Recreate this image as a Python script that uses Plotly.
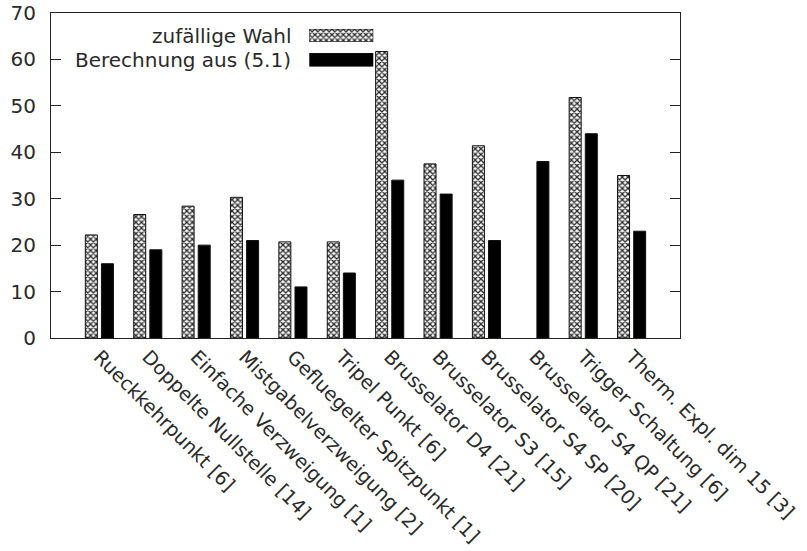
import plotly.graph_objects as go

# Test problems (label with number of runs in brackets)
categories = [
    "Rueckkehrpunkt [6]",
    "Doppelte Nullstelle [14]",
    "Einfache Verzweigung [1]",
    "Mistgabelverzweigung [2]",
    "Gefluegelter Spitzpunkt [1]",
    "Tripel Punkt [6]",
    "Brusselator D4 [21]",
    "Brusselator S3 [15]",
    "Brusselator S4 SP [20]",
    "Brusselator S4 QP [21]",
    "Trigger Schaltung [6]",
    "Therm. Expl. dim 15 [3]",
]
zufaellig = [22.2, 26.6, 28.4, 30.3, 20.7, 20.7, 61.7, 37.5, 41.4, None, 51.8, 35.0]
berechnung = [16, 19, 20, 21, 11, 14, 34, 31, 21, 38, 44, 23]

series_names = ["zufällige Wahl", "Berechnung aus (5.1)"]
y_ticks = [0, 10, 20, 30, 40, 50, 60, 70]

FONT = "DejaVu Sans"
FS = 20
TXT = "#2a2a2a"
LINE = "#222222"


def hatch():
    return dict(shape="x", size=4, solidity=0.55, fgcolor="#2a2a2a",
                bgcolor="#ffffff", fillmode="replace")


styles = [
    dict(color="white", pattern=hatch(), line=dict(color="#111111", width=1)),
    dict(color="black", line=dict(color="#111111", width=1)),
]

fig = go.Figure()
for name, vals, st in zip(series_names, [zufaellig, berechnung], styles):
    fig.add_trace(go.Bar(x=categories, y=vals, name=name, marker=st, showlegend=False))

# key samples: one short horizontal bar per series on its own hidden axes
key_rows = [(0.9106, 0.9507, "x2", "y2"), (0.8354, 0.8767, "x3", "y3")]
for (y0, y1, xa, ya), st in zip(key_rows, styles):
    fig.add_trace(go.Bar(
        y=[0], x=[1], orientation="h", width=1, xaxis=xa, yaxis=ya,
        marker=st, showlegend=False, hoverinfo="skip",
    ))
    n = xa[1:]
    fig.update_layout(**{
        f"xaxis{n}": dict(domain=[0.4107, 0.5124], range=[0, 1], anchor=ya,
                          visible=False, fixedrange=True),
        f"yaxis{n}": dict(domain=[y0, y1], range=[-0.5, 0.5], anchor=xa,
                          visible=False, fixedrange=True),
    })

for yy, txt in zip([0.930, 0.856], series_names):
    fig.add_annotation(
        x=0.3847, y=yy, xref="paper", yref="paper", text=txt,
        xanchor="right", yanchor="middle", showarrow=False,
        font=dict(family=FONT, size=FS, color=TXT),
    )

fig.update_layout(
    width=807, height=551,
    margin=dict(l=51, r=127, t=13, b=213),
    paper_bgcolor="white", plot_bgcolor="white",
    barmode="group", bargap=0.334, bargroupgap=0.255,
    font=dict(family=FONT, size=FS, color=TXT),
    xaxis=dict(
        range=[-1, 12], showline=True, linecolor=LINE, linewidth=1, mirror=True,
        ticks="", showgrid=False, zeroline=False, tickangle=45, automargin=False,
        ticklabelstandoff=-1,
        tickfont=dict(family=FONT, size=19.3, color=TXT),
    ),
    yaxis=dict(
        range=[0, 70], tickvals=y_ticks, showline=True, linecolor=LINE, linewidth=1,
        mirror="ticks", ticks="inside", ticklen=10, tickcolor=LINE, tickwidth=1,
        showgrid=False, zeroline=False, ticklabelstandoff=10, automargin=False,
        tickfont=dict(family=FONT, size=FS, color=TXT),
    ),
)

fig.write_html("out.html")
